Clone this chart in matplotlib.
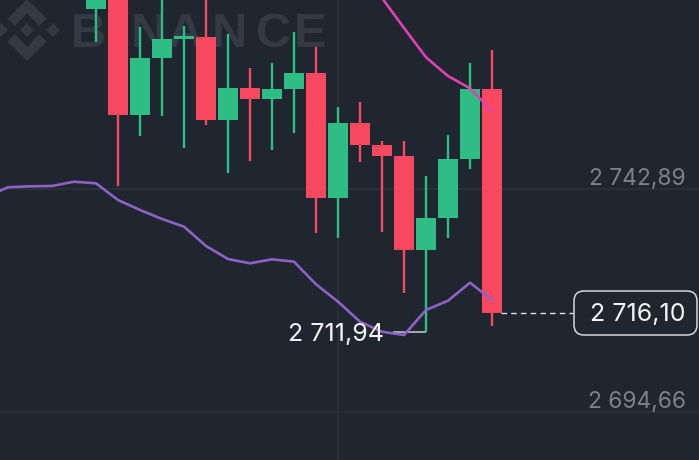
import matplotlib
matplotlib.use("Agg")
import matplotlib.pyplot as plt
from matplotlib.patches import Polygon, FancyBboxPatch
from matplotlib.transforms import Affine2D

# candles, left to right (the chart is cut off at the top)
opens = [2782.02, 2786.50, 2759.04, 2771.50, 2775.58, 2776.01, 2757.96, 2764.96, 2762.44, 2764.68,
         2768.08, 2740.98, 2757.24, 2752.54, 2750.22, 2729.77, 2736.78, 2749.44, 2764.68]
closes = [2790.00, 2759.04, 2771.50, 2775.52, 2776.17, 2757.96, 2764.96, 2762.44, 2764.68, 2768.08,
          2740.98, 2757.24, 2752.54, 2750.22, 2729.77, 2736.78, 2749.44, 2764.68, 2716.10]
highs = [2795.00, 2792.00, 2778.12, 2788.00, 2778.40, 2790.00, 2776.53, 2769.23, 2770.25, 2777.10,
         2773.72, 2760.77, 2761.92, 2753.40, 2753.40, 2745.88, 2754.70, 2770.25, 2773.13]
lows = [2774.93, 2743.71, 2754.55, 2758.82, 2751.95, 2756.87, 2746.40, 2749.00, 2751.52, 2755.07,
        2733.46, 2732.38, 2748.92, 2733.74, 2720.39, 2711.94, 2732.31, 2747.27, 2713.36]

# moving averages
ma_slow_idx = [-5, -4, -3, -2, -1, 0, 1, 2, 3, 4, 5, 6, 7, 8, 9, 10, 11, 12, 13, 14, 15, 16, 17, 18]
ma_slow = [2741.26, 2743.37, 2743.58, 2743.65, 2744.58, 2744.23, 2740.61, 2738.45, 2736.50, 2734.83,
           2730.64, 2727.82, 2726.89, 2727.76, 2727.24, 2722.34, 2718.57, 2714.23, 2712.06, 2711.35,
           2716.77, 2718.78, 2722.69, 2718.94]
ma_fast_idx = [12, 13, 14, 15, 16, 17, 18]
ma_fast = [2794.81, 2784.40, 2777.90, 2771.55, 2767.49, 2764.83, 2759.91]

grid_prices = [2742.89, 2694.66]
grid_labels = ["2 742,89", "2 694,66"]
last_price = 2716.10
last_label = "2 716,10"
low_price = 2711.94
low_label = "2 711,94"
low_idx = 15

BG = "#1f2630"
GRID = "#2c323d"
RED = "#f84960"
GREEN = "#2ebd85"
WATERMARK = "#343a44"
FONT = "Inter"

# 1 candle = 22 px, 1 price unit = 4.613 px
W, H = 699, 460
PX_X = 22.0
PX_Y = 4.613

fig = plt.figure(figsize=((W + 0.01) / 100, (H + 0.01) / 100), dpi=100, facecolor=BG)
ax = fig.add_axes([0, 0, 1, 1], facecolor=BG)
ax.set_xlim(-96 / PX_X, (W - 96) / PX_X)
ax.set_ylim(2742.89 - (H - 189.5) / PX_Y, 2742.89 + 189.5 / PX_Y)
ax.axis("off")

# pixel coords with origin top left, only for the watermark
px = Affine2D().scale(1, -1).translate(0, H)

# watermark logo
cx, cy = 27, 30
logo = [
    [(0, -31), (19.5, -11.5), (12, -4), (0, -17), (-12, -4), (-19.5, -11.5)],
    [(0, 31), (19.5, 11.5), (12, 4), (0, 17), (-12, 4), (-19.5, 11.5)],
    [(0, -7), (7, 0), (0, 7), (-7, 0)],
    [(26, -7), (33, 0), (26, 7), (19, 0)],
    [(-26, -7), (-19, 0), (-26, 7), (-33, 0)],
]
for shape in logo:
    pts = [(cx + a, cy + b) for a, b in shape]
    fig.add_artist(Polygon(pts, closed=True, facecolor=WATERMARK, edgecolor="none", transform=px, zorder=0.5))
ax.set_zorder(1)
ax.patch.set_visible(False)
# letters placed one by one, the watermark is wider spaced than the font
for letter, lx in zip("BINANCE", [88, 116, 148, 185.5, 229, 274, 310]):
    fig.text(lx, H - 47, letter, transform=None, fontsize=35, fontweight="bold", family="Liberation Sans",
             color=WATERMARK, ha="center", va="baseline", zorder=0.5)

# grid
for p in grid_prices:
    ax.axhline(p, color=GRID, lw=1.1, zorder=1)
ax.axvline(11, color=GRID, lw=1.1, zorder=1)

# candles
for i in range(len(opens)):
    color = GREEN if closes[i] >= opens[i] else RED
    ax.vlines(i, lows[i], highs[i], color=color, lw=1.7, zorder=2)
    ax.bar(i, abs(closes[i] - opens[i]), bottom=min(opens[i], closes[i]), width=0.88,
           color=color, zorder=3)

ax.plot(ma_slow_idx, ma_slow, color="#8e62c4", lw=1.9, zorder=5)
ax.plot(ma_fast_idx, ma_fast, color="#e23fb4", lw=1.9, zorder=5)

# axis labels inside the chart
for p, label in zip(grid_prices, grid_labels):
    ax.annotate(label, (1, p), xycoords=("axes fraction", "data"), xytext=(-13, 10.3), textcoords="offset pixels",
                ha="right", va="center", fontsize=16.4, family=FONT, color="#7c828c", zorder=6)

# lowest price marker
ax.hlines(low_price, low_idx - 1.5, low_idx, color="#c9ccd1", lw=1.1, zorder=4)
ax.annotate(low_label, (low_idx, low_price), xytext=(-42, -2), textcoords="offset pixels",
            ha="right", va="center", fontsize=18, family=FONT, color="#f2f3f5", zorder=6)

# last price tag
ax.plot([18.4, 21.7], [last_price, last_price], color="#dfe1e4", lw=1.0, ls=(0, (4, 3)), zorder=4)
box_y = H - 313
fig.add_artist(FancyBboxPatch((574, box_y - 22), 123, 44, boxstyle="round,pad=0,rounding_size=10",
                              mutation_aspect=1, facecolor=BG, edgecolor="#d5d8dc", lw=1.1, transform=None, zorder=7))
fig.text(686, box_y - 1.5, last_label, transform=None, ha="right", va="center", fontsize=18,
         family=FONT, color="#f2f3f5", zorder=8)

fig.savefig("out.png", dpi=100, facecolor=BG)
